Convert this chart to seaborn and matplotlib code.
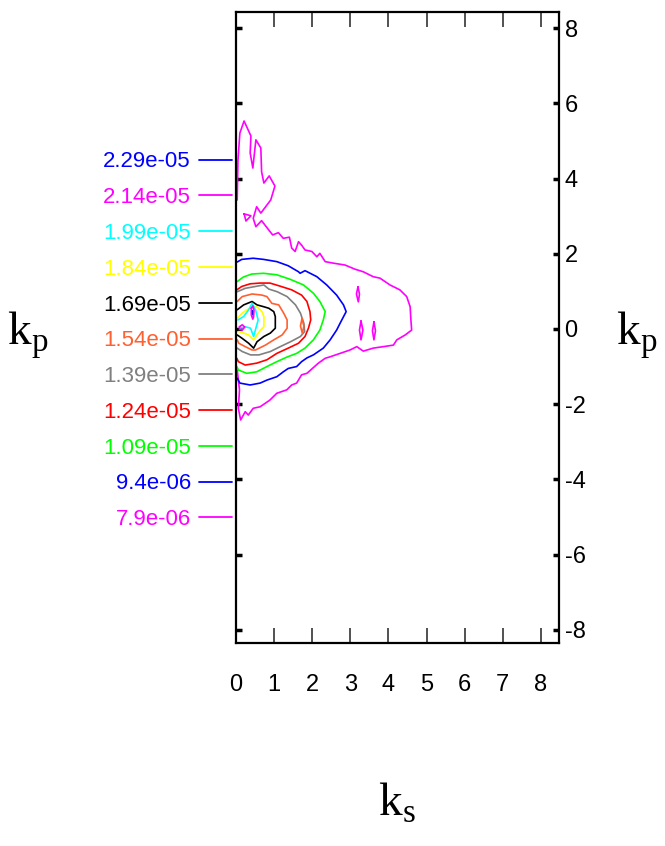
import matplotlib
matplotlib.use("Agg")
import matplotlib.pyplot as plt
from matplotlib.lines import Line2D
import numpy as np
import seaborn as sns

# contour levels as printed in the key, top to bottom
levels = ["2.29e-05", "2.14e-05", "1.99e-05", "1.84e-05", "1.69e-05", "1.54e-05",
          "1.39e-05", "1.24e-05", "1.09e-05", "9.4e-06", "7.9e-06"]
level_colors = ["#0000ff", "#ff00ff", "#00ffff", "#ffff00", "#000000", "#ff6030",
                "#808080", "#ff0000", "#00ff00", "#0000ff", "#ff00ff"]

# traced contour outlines, (ks, kp)
c_79e6 = [(0.03, 3.43), (0.05, 4.49), (0.10, 5.21), (0.21, 5.53), (0.39, 5.13), (0.37, 4.68),
          (0.44, 4.28), (0.52, 5.03), (0.65, 4.81), (0.67, 4.18), (0.73, 3.88), (0.87, 4.07),
          (1.02, 3.80), (0.91, 3.43), (0.65, 3.08), (0.54, 3.25), (0.45, 2.94), (0.52, 2.72),
          (0.67, 2.88), (0.79, 2.72), (0.96, 2.50), (1.11, 2.56), (1.24, 2.41), (1.40, 2.44),
          (1.46, 2.15), (1.55, 2.06), (1.64, 2.32), (1.72, 2.23), (1.81, 2.10), (1.99, 2.06),
          (2.12, 1.92), (2.20, 2.01), (2.34, 1.79), (2.55, 1.75), (2.86, 1.70), (3.12, 1.59),
          (3.34, 1.52), (3.60, 1.39), (3.78, 1.35), (4.04, 1.17), (4.30, 1.04), (4.48, 0.86),
          (4.57, 0.59), (4.59, 0.24), (4.61, -0.03), (4.44, -0.16), (4.22, -0.29), (4.13, -0.43),
          (3.87, -0.47), (3.60, -0.51), (3.34, -0.59), (3.17, -0.47), (2.99, -0.56), (2.47, -0.74),
          (2.34, -0.78), (2.16, -0.91), (1.86, -1.18), (1.72, -1.22), (1.59, -1.44), (1.46, -1.49),
          (1.33, -1.62), (1.07, -1.71), (0.89, -1.89), (0.63, -2.07), (0.45, -2.11), (0.32, -2.29),
          (0.24, -2.20), (0.12, -2.42), (0.06, -2.11), (0.09, -1.62), (0.03, -1.09)]
c_79e6_islands = [
    [(0.21, 3.06), (0.39, 3.01), (0.26, 2.87), (0.21, 3.06)],
    [(3.20, 1.12), (3.24, 0.93), (3.21, 0.72), (3.16, 0.93), (3.20, 1.12)],
    [(3.28, 0.21), (3.33, -0.03), (3.28, -0.29), (3.24, -0.03), (3.28, 0.21)],
    [(3.62, 0.19), (3.66, -0.05), (3.62, -0.29), (3.58, -0.05), (3.62, 0.19)],
]
c_94e6 = [(0.03, 1.78), (0.15, 1.85), (0.45, 1.88), (0.72, 1.85), (1.07, 1.79), (1.37, 1.68),
          (1.64, 1.52), (1.68, 1.48), (1.81, 1.55), (2.12, 1.39), (2.38, 1.17), (2.64, 0.90),
          (2.82, 0.64), (2.89, 0.46), (2.73, 0.15), (2.64, -0.03), (2.47, -0.29), (2.29, -0.51),
          (2.03, -0.69), (1.86, -0.77), (1.72, -0.87), (1.59, -1.00), (1.37, -1.05), (1.24, -1.14),
          (1.07, -1.27), (0.81, -1.36), (0.63, -1.44), (0.37, -1.49), (0.10, -1.44), (0.03, -1.31)]
c_109e5 = [(0.03, 1.26), (0.19, 1.38), (0.41, 1.46), (0.72, 1.48), (1.07, 1.44), (1.42, 1.32),
           (1.77, 1.17), (2.03, 0.95), (2.20, 0.73), (2.34, 0.46), (2.29, 0.24), (2.20, -0.03),
           (2.03, -0.29), (1.81, -0.51), (1.59, -0.65), (1.33, -0.75), (1.07, -0.87), (0.81, -1.00),
           (0.54, -1.14), (0.28, -1.18), (0.06, -1.09), (0.02, -1.00)]
c_124e5 = [(0.02, 1.04), (0.15, 1.13), (0.37, 1.20), (0.63, 1.22), (0.89, 1.22), (1.15, 1.14),
           (1.46, 1.04), (1.72, 0.90), (1.86, 0.73), (1.94, 0.46), (1.96, 0.24), (1.90, 0.02),
           (1.81, -0.20), (1.64, -0.38), (1.37, -0.51), (1.07, -0.65), (0.81, -0.82), (0.54, -0.91),
           (0.24, -0.96), (0.06, -0.87), (0.02, -0.78)]
c_139e5 = [(0.03, 0.99), (0.24, 1.08), (0.51, 1.13), (0.73, 1.17), (0.86, 1.06), (1.08, 0.99),
           (1.34, 0.86), (1.56, 0.64), (1.69, 0.42), (1.78, 0.15), (1.80, -0.07), (1.69, -0.20),
           (1.43, -0.34), (1.16, -0.47), (0.90, -0.60), (0.60, -0.69), (0.38, -0.69), (0.16, -0.60),
           (0.03, -0.51)]
c_154e5 = [(0.03, 0.73), (0.16, 0.86), (0.42, 0.93), (0.68, 0.90), (0.81, 0.86), (0.94, 0.68),
           (1.12, 0.64), (1.25, 0.42), (1.34, 0.24), (1.34, 0.02), (1.21, -0.16), (0.99, -0.29),
           (0.77, -0.43), (0.51, -0.56), (0.42, -0.56), (0.24, -0.47), (0.07, -0.38), (0.03, -0.29)]
c_154e5_island = [(1.73, 0.27), (1.78, 0.08), (1.74, -0.12), (1.69, 0.08), (1.73, 0.27)]
c_169e5 = [(0.03, 0.51), (0.20, 0.64), (0.42, 0.73), (0.55, 0.64), (0.73, 0.59), (0.86, 0.55),
           (0.99, 0.46), (1.03, 0.33), (1.03, 0.02), (0.90, -0.11), (0.73, -0.20), (0.55, -0.34),
           (0.46, -0.51), (0.33, -0.38), (0.16, -0.25), (0.03, -0.16)]
c_184e5 = [(0.03, 0.28), (0.16, 0.42), (0.29, 0.51), (0.42, 0.59), (0.55, 0.59), (0.68, 0.46),
           (0.73, 0.33), (0.73, 0.06), (0.64, -0.03), (0.55, -0.16), (0.46, -0.29), (0.33, -0.16),
           (0.20, -0.11), (0.07, -0.07)]
c_199e5 = [(0.05, 0.24), (0.20, 0.33), (0.33, 0.51), (0.42, 0.68), (0.51, 0.51), (0.58, 0.24),
           (0.52, 0.02), (0.46, -0.20), (0.38, 0.02), (0.24, 0.06), (0.11, 0.02)]
c_214e5 = [
    [(0.40, 0.55), (0.44, 0.61), (0.47, 0.50), (0.46, 0.33), (0.44, 0.26), (0.40, 0.37), (0.40, 0.55)],
    [(0.09, 0.06), (0.16, 0.11), (0.23, 0.05), (0.16, -0.03), (0.09, -0.01), (0.09, 0.06)],
]
c_229e5 = [(0.43, 0.48), (0.45, 0.42), (0.43, 0.38), (0.42, 0.43), (0.43, 0.48)]

x_ticks = [0, 1, 2, 3, 4, 5, 6, 7, 8]
y_ticks = [-8, -6, -4, -2, 0, 2, 4, 6, 8]
y_tick_labels = ["-8", "-6", "-4", "-2", "0", "2", "4", "6", "8"]

sns.set_style("white")
plt.rcParams["text.color"] = "black"
plt.rcParams["xtick.color"] = "black"
plt.rcParams["ytick.color"] = "black"
narrow = ["Liberation Sans Narrow", "Liberation Sans", "DejaVu Sans"]
serif = ["Liberation Serif", "DejaVu Serif"]

fig = plt.figure(figsize=(6.65, 8.46), dpi=100)
ax = fig.add_axes([0.355, 0.240, 0.4857, 0.7459])

paths = [
    (c_79e6, level_colors[10]), (c_94e6, level_colors[9]), (c_109e5, level_colors[8]),
    (c_124e5, level_colors[7]), (c_139e5, level_colors[6]), (c_154e5, level_colors[5]),
    (c_154e5_island, level_colors[5]), (c_169e5, level_colors[4]), (c_184e5, level_colors[3]),
    (c_199e5, level_colors[2]), (c_229e5, level_colors[0]),
]
paths += [(p, level_colors[10]) for p in c_79e6_islands]
paths += [(p, level_colors[1]) for p in c_214e5]

for pts, col in paths:
    arr = np.array(pts)
    sns.lineplot(x=arr[:, 0], y=arr[:, 1], sort=False, estimator=None,
                 color=col, lw=1.2, legend=False, ax=ax)

ax.set_xlim(0, 8.48)
ax.set_ylim(-8.35, 8.43)
ax.set_xticks(x_ticks)
ax.set_xticklabels([str(t) for t in x_ticks], fontfamily=narrow, fontsize=17)
ax.set_yticks(y_ticks)
ax.set_yticklabels(y_tick_labels, fontfamily=narrow, fontsize=17)
ax.tick_params(axis="x", direction="in", length=11, width=1.2, top=True, bottom=True,
               pad=22, color="#333333", labelcolor="black")
ax.tick_params(axis="y", direction="in", length=4, width=2.5, left=True, right=True,
               labelleft=False, labelright=True, pad=4, labelcolor="black")
for s in ax.spines.values():
    s.set_color("black")
    s.set_linewidth(1.6)
ax.set_xlabel("")
ax.set_ylabel("")

handles = [Line2D([], [], color=c, lw=1.3) for c in level_colors]
leg = ax.legend(handles, levels, loc="upper right", bbox_to_anchor=(0.349, 0.821),
                bbox_transform=fig.transFigure, frameon=False, markerfirst=False,
                handlelength=1.5, handletextpad=0.35, labelspacing=0.665,
                borderpad=0, borderaxespad=0, labelcolor=level_colors,
                prop={"family": narrow, "size": 16})

fig.text(0.042, 0.604, r"k$_\mathregular{p}$", fontfamily=serif, fontsize=34, ha="center", va="center")
fig.text(0.957, 0.604, r"k$_\mathregular{p}$", fontfamily=serif, fontsize=34, ha="center", va="center")
fig.text(0.597, 0.050, r"k$_\mathregular{s}$", fontfamily=serif, fontsize=34, ha="center", va="center")

fig.savefig("out.png", dpi=100)
